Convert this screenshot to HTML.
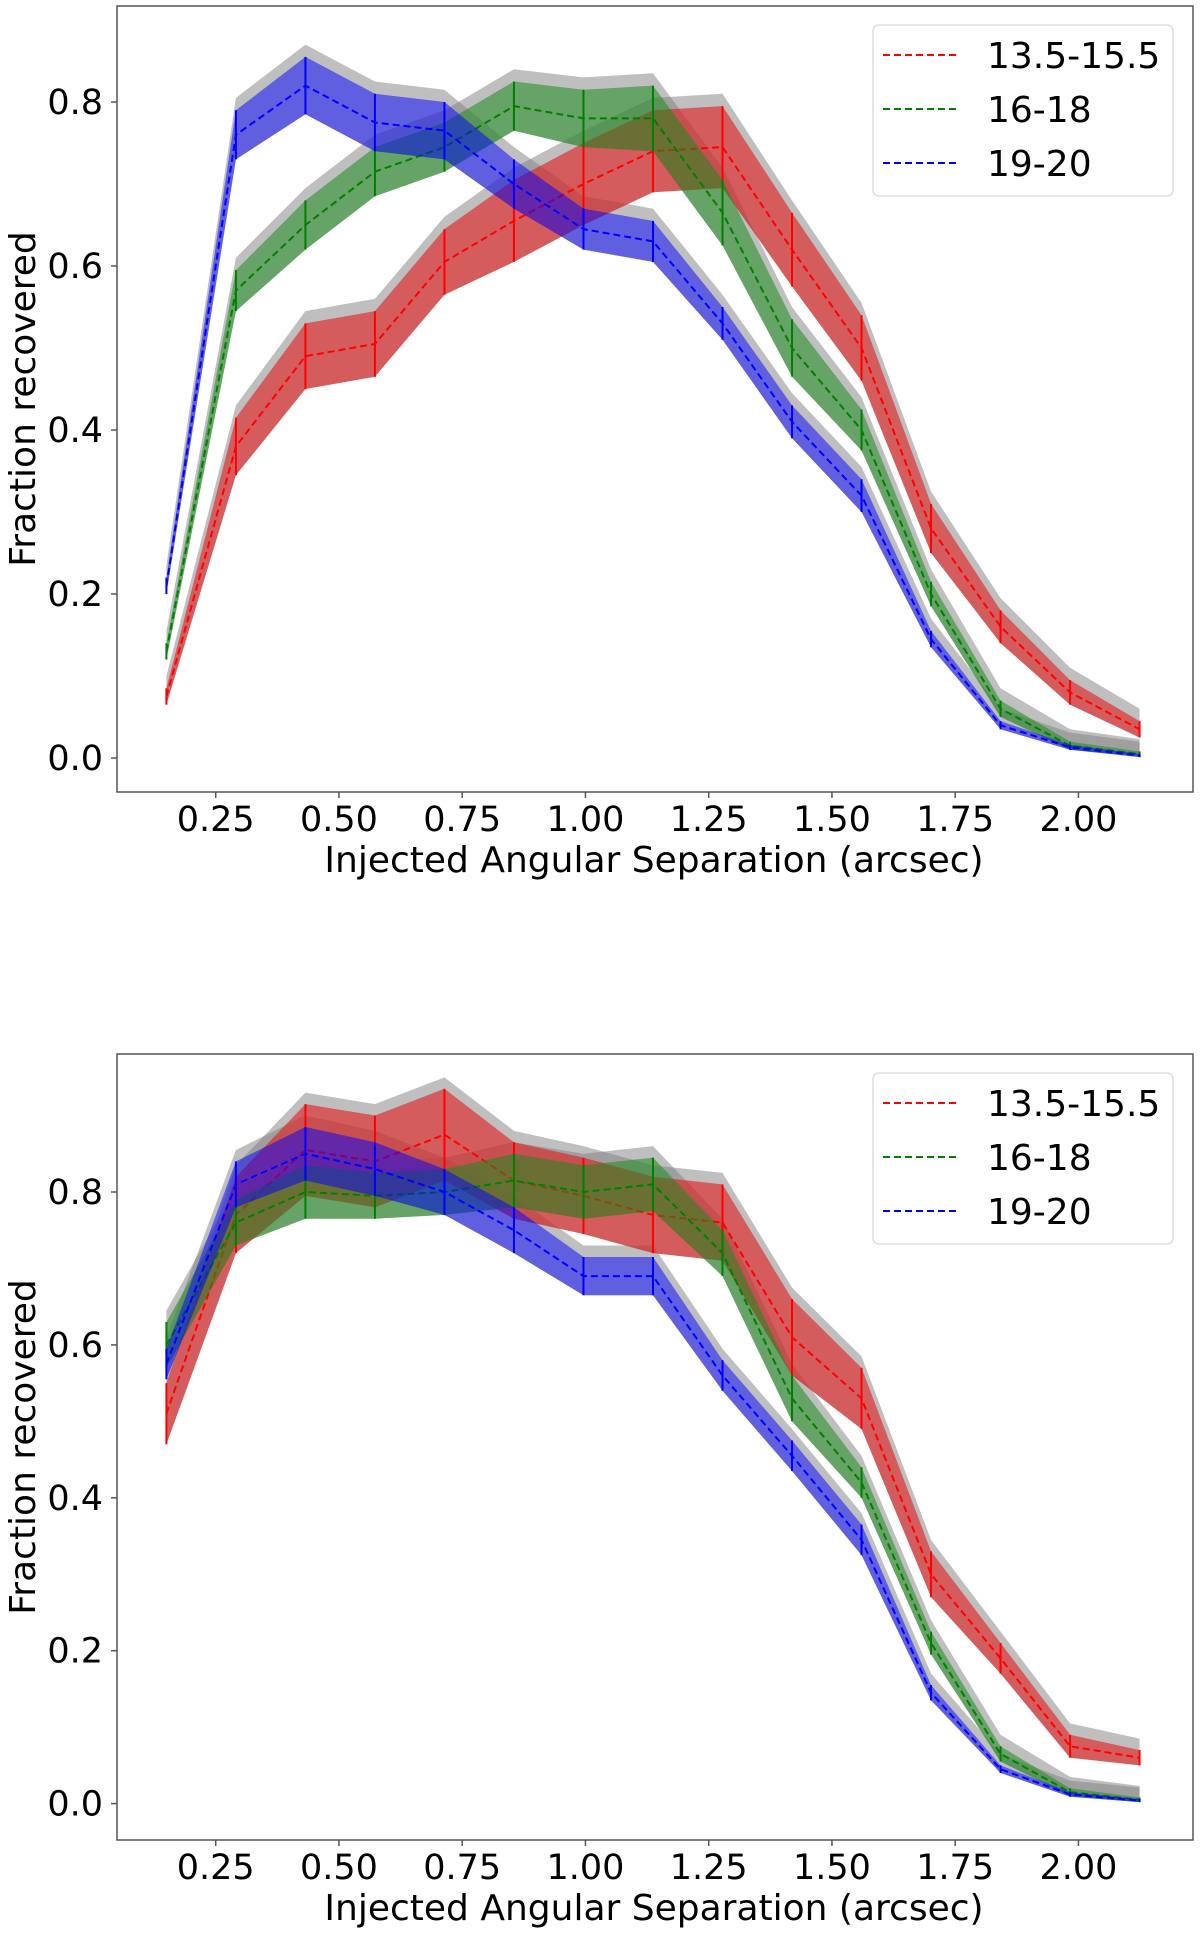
<!DOCTYPE html>
<html><head><meta charset="utf-8"><style>
html,body{margin:0;padding:0;background:#fff;}
svg{display:block;font-family:"DejaVu Sans","Liberation Sans",sans-serif;}
</style></head><body>
<svg id="fig" width="1200" height="1933" viewBox="0 0 1200 1933" xmlns="http://www.w3.org/2000/svg"></svg>
<script>
const xValues=[0.15,0.291,0.432,0.573,0.714,0.855,0.996,1.137,1.278,1.419,1.56,1.701,1.842,1.983,2.124];
const xTicks=[0.25,0.5,0.75,1.0,1.25,1.5,1.75,2.0];
const xTickLabels=["0.25","0.50","0.75","1.00","1.25","1.50","1.75","2.00"];
const yTicks=[0,0.2,0.4,0.6,0.8];
const yTickLabels=["0.0","0.2","0.4","0.6","0.8"];
const seriesNames=["13.5-15.5","16-18","19-20"];
// top panel
const topRed=[0.075,0.38,0.49,0.505,0.605,0.655,0.70,0.74,0.745,0.62,0.50,0.28,0.16,0.08,0.035];
const topRedErr=[0.01,0.035,0.04,0.04,0.04,0.05,0.05,0.05,0.05,0.045,0.04,0.03,0.02,0.015,0.01];
const topGreen=[0.13,0.57,0.65,0.715,0.745,0.795,0.78,0.78,0.665,0.50,0.40,0.20,0.06,0.015,0.005];
const topGreenErr=[0.01,0.025,0.03,0.03,0.03,0.03,0.035,0.04,0.04,0.035,0.025,0.015,0.01,0.005,0.003];
const topBlue=[0.21,0.76,0.82,0.775,0.765,0.70,0.645,0.63,0.53,0.41,0.32,0.145,0.04,0.013,0.003];
const topBlueErr=[0.01,0.03,0.035,0.035,0.035,0.03,0.025,0.025,0.02,0.02,0.02,0.01,0.005,0.003,0.002];
// bottom panel
const botRed=[0.51,0.77,0.855,0.84,0.875,0.815,0.795,0.77,0.76,0.61,0.53,0.30,0.19,0.075,0.06];
const botRedErr=[0.04,0.05,0.06,0.06,0.06,0.05,0.05,0.05,0.05,0.05,0.04,0.03,0.02,0.015,0.01];
const botGreen=[0.60,0.76,0.80,0.795,0.80,0.815,0.80,0.81,0.72,0.53,0.42,0.21,0.065,0.015,0.005];
const botGreenErr=[0.03,0.03,0.035,0.03,0.03,0.035,0.035,0.035,0.03,0.03,0.02,0.015,0.01,0.005,0.003];
const botBlue=[0.575,0.81,0.85,0.83,0.80,0.75,0.69,0.69,0.56,0.455,0.345,0.145,0.045,0.012,0.004];
const botBlueErr=[0.02,0.03,0.035,0.035,0.03,0.03,0.025,0.025,0.02,0.02,0.02,0.01,0.005,0.003,0.002];
const grayPad=0.015;

const NS="http://www.w3.org/2000/svg";
const svg=document.getElementById('fig');
function mk(tag,attrs,parent){const e=document.createElementNS(NS,tag);for(const k in attrs)e.setAttribute(k,attrs[k]);(parent||svg).appendChild(e);return e;}

function panel(prefix,top,bottom,y0,yPer02,data){
  const L=117,R=1193;
  const X=v=>215.7+(v-0.25)*493;
  const Y=v=>y0-v/0.2*yPer02;
  const g=mk('g',{});
  
  
  const colors=[['#ff0000','rgba(228,26,28,0.6)'],['#008000','rgba(30,140,30,0.55)'],['#0000ff','rgba(0,0,255,0.5)']];
  const keys=['red','green','blue'];
  data.forEach((s,i)=>{
    const up=s.m.map((v,j)=>[X(xValues[j]),Y(v+s.e[j]+grayPad)]);
    const lo=s.m.map((v,j)=>[X(xValues[j]),Y(Math.max(0,v-s.e[j]))]).reverse();
    const p=mk('polygon',{points:up.concat(lo).map(a=>a.join(',')).join(' '),fill:'rgba(128,128,128,0.5)'},g);
    
    
  });
  data.forEach((s,i)=>{
    const up=s.m.map((v,j)=>[X(xValues[j]),Y(v+s.e[j])]);
    const lo=s.m.map((v,j)=>[X(xValues[j]),Y(v-s.e[j])]).reverse();
    const p=mk('polygon',{points:up.concat(lo).map(a=>a.join(',')).join(' '),fill:colors[i][1]},g);
    
    
    s.m.forEach((v,j)=>{
      const l=mk('line',{x1:X(xValues[j]),x2:X(xValues[j]),y1:Y(v-s.e[j]),y2:Y(v+s.e[j]),stroke:colors[i][0],'stroke-width':2},g);
      
      
    });
    const pl=mk('polyline',{points:s.m.map((v,j)=>X(xValues[j])+','+Y(v)).join(' '),fill:'none',stroke:colors[i][0],'stroke-width':2,'stroke-dasharray':'7,4'},g);
    
    
  });
  const fr=mk('rect',{x:L,y:top,width:R-L,height:bottom-top,fill:'none',stroke:'#555','stroke-width':1.5},g);
  
  
  xTicks.forEach((t,i)=>{
    const tk=mk('line',{x1:X(t),x2:X(t),y1:bottom,y2:bottom+6,stroke:'#555','stroke-width':1.5},g);
    
    
    const tx=mk('text',{x:X(t),y:bottom+39,'font-size':35,'text-anchor':'middle',fill:'#000'},g);
    tx.textContent=xTickLabels[i];
    
    
  });
  yTicks.forEach((t,i)=>{
    const tk=mk('line',{x1:L-6,x2:L,y1:Y(t),y2:Y(t),stroke:'#555','stroke-width':1.5},g);
    
    
    const tx=mk('text',{x:103,y:Y(t)+12,'font-size':35,'text-anchor':'end',fill:'#000'},g);
    tx.textContent=yTickLabels[i];
    
    
  });
  const xl=mk('text',{x:654,y:bottom+80,'font-size':36,'text-anchor':'middle',fill:'#000'},g);
  xl.textContent='Injected Angular Separation (arcsec)';
  
  
  const cy=(top+bottom)/2;
  const yl=mk('text',{x:0,y:0,'font-size':36,'text-anchor':'middle',fill:'#000',transform:'translate(35,'+cy+') rotate(-90)'},g);
  yl.textContent='Fraction recovered';
  
  
  const lt=top+19;
  const lg=mk('g',{},g);
  
  
  mk('rect',{x:873,y:lt,width:300,height:171,rx:6,fill:'rgba(255,255,255,0.85)',stroke:'#ddd','stroke-width':1.5},lg);
  seriesNames.forEach((n,i)=>{
    const yy=lt+30+i*54;
    const ln=mk('line',{x1:883,x2:957,y1:yy,y2:yy,stroke:colors[i][0],'stroke-width':2,'stroke-dasharray':'7,4'},lg);
    
    
    const tx=mk('text',{x:987,y:yy+13,'font-size':36,fill:'#000'},lg);
    tx.textContent=n;
    
    
  });
}
panel('top',6,792,758,164,[{m:topRed,e:topRedErr},{m:topGreen,e:topGreenErr},{m:topBlue,e:topBlueErr}]);
panel('bottom',1054,1840,1803.6,152.9,[{m:botRed,e:botRedErr},{m:botGreen,e:botGreenErr},{m:botBlue,e:botBlueErr}]);
</script>
</body></html>
